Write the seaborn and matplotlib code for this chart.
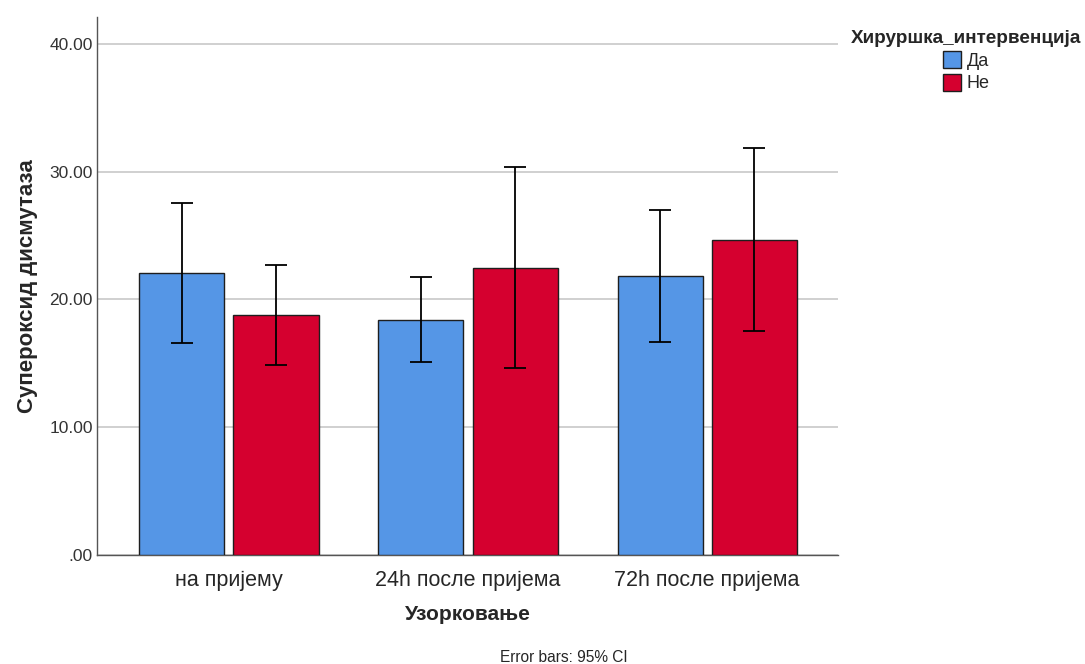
import matplotlib
matplotlib.use("Agg")
import matplotlib.pyplot as plt
import seaborn as sns
import pandas as pd
import numpy as np

# Mean superoxide dismutase per sampling time and surgical intervention group
sampling = ["на пријему", "24h после пријема", "72h после пријема"]
groups = ["Да", "Не"]
mean_da = [22.07, 18.40, 21.84]
mean_ne = [18.79, 22.47, 24.66]
ci_low_da = [16.60, 15.10, 16.67]
ci_high_da = [27.55, 21.76, 27.00]
ci_low_ne = [14.87, 14.64, 17.53]
ci_high_ne = [22.70, 30.37, 31.86]
yticks = [0, 10, 20, 30, 40]
ytick_labels = [".00", "10.00", "20.00", "30.00", "40.00"]

palette = {"Да": "#5596E6", "Не": "#D5002F"}

df = pd.DataFrame({
    "Узорковање": sampling * 2,
    "Хируршка_интервенција": ["Да"] * 3 + ["Не"] * 3,
    "mean": mean_da + mean_ne,
    "lo": ci_low_da + ci_low_ne,
    "hi": ci_high_da + ci_high_ne,
})

sns.set_style("white")
plt.rcParams["font.family"] = ["Liberation Sans", "DejaVu Sans"]

fig = plt.figure(figsize=(10.85, 6.64), dpi=100)
ax = fig.add_axes([0.0894, 0.1642, 0.683, 0.810])

sns.barplot(data=df, x="Узорковање", y="mean", hue="Хируршка_интервенција",
            hue_order=groups, order=sampling, palette=palette, saturation=1,
            errorbar=None, width=0.787, gap=0.096, ax=ax,
            edgecolor="#1e1e1e", linewidth=1.0, legend=True, zorder=3)

# 95% CI error bars at the centre of each bar
for patch_group, grp in zip([ax.patches[0:3], ax.patches[3:6]], groups):
    sub = df[df["Хируршка_интервенција"] == grp]
    xs = [p.get_x() + p.get_width() / 2 for p in patch_group]
    m = sub["mean"].to_numpy()
    lo = sub["lo"].to_numpy()
    hi = sub["hi"].to_numpy()
    ax.errorbar(xs, m, yerr=[m - lo, hi - m], fmt="none", ecolor="black",
                elinewidth=1.3, capsize=8, capthick=1.3, zorder=4)

ax.set_xlim(-0.552, 2.548)
ax.set_ylim(0, 42.1)
ax.set_yticks(yticks)
ax.set_yticklabels(ytick_labels, fontsize=12.5, color="#333333")
ax.tick_params(axis="x", labelsize=15.5, length=0, pad=11)
ax.tick_params(axis="y", length=0, pad=3)
ax.yaxis.grid(True, color="#c8c8c8", linewidth=1.2, zorder=0)
ax.set_axisbelow(True)

for side in ["top", "right"]:
    ax.spines[side].set_visible(False)
for side in ["left", "bottom"]:
    ax.spines[side].set_color("#555555")
    ax.spines[side].set_linewidth(1.0)

ax.set_xlabel("Узорковање", fontsize=15, fontweight="bold", labelpad=10)
ax.set_ylabel("Супероксид дисмутаза", fontsize=16, fontweight="bold", labelpad=8)

leg = ax.legend(title="Хируршка_интервенција", loc="upper center",
                bbox_to_anchor=(0.8905, 0.955), bbox_transform=fig.transFigure,
                frameon=False, fontsize=13, borderpad=0, borderaxespad=0,
                title_fontproperties={"weight": "bold", "size": 13.6},
                handlelength=1.0, handleheight=1.1, handletextpad=0.3,
                labelspacing=0.22, alignment="center")

fig.text(0.52, 0.0105, "Error bars: 95% CI", fontsize=11.2, ha="center", va="center")

fig.savefig("out.png", dpi=100)
